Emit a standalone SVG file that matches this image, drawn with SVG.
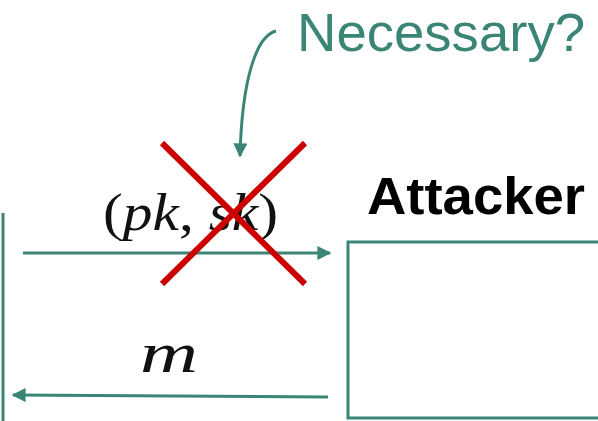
<svg xmlns="http://www.w3.org/2000/svg" width="598" height="421" viewBox="0 0 598 421">
<defs>
<style>
.teal{stroke:#3a8576;fill:none;stroke-width:3}
.math{font-family:"Liberation Serif",serif;fill:#111}
.x{stroke:#cc0000;stroke-width:6;stroke-linecap:butt}
</style>
<marker id="ah2" viewBox="0 0 10 10" refX="9" refY="5" markerWidth="16" markerHeight="14" orient="auto" markerUnits="userSpaceOnUse">
<path d="M0,0 L10,5 L0,10 z" fill="#3a8576"/>
</marker>
</defs>
<rect width="598" height="421" fill="#fff"/>
<g id="user">
<line class="teal" x1="3" y1="213" x2="3" y2="421"/>
</g>
<g id="attacker">
<rect class="teal" x="348" y="242" width="270" height="176"/>
<text x="476" y="214" text-anchor="middle" font-family="'Liberation Sans',sans-serif" font-weight="bold" font-size="51" textLength="218" lengthAdjust="spacingAndGlyphs" fill="#000">Attacker</text>
</g>
<g id="note">
<text x="441" y="51" text-anchor="middle" font-family="'Liberation Sans',sans-serif" font-size="54" textLength="288" lengthAdjust="spacingAndGlyphs" fill="#3a8576">Necessary?</text>
</g>
<g id="connectors">
<line class="teal" x1="23" y1="253" x2="330" y2="253" marker-end="url(#ah2)"/>
<line class="teal" x1="328" y1="397" x2="13" y2="395" marker-end="url(#ah2)"/>
<path class="teal" d="M276,31 C256,36 242,80 240,156" marker-end="url(#ah2)"/>
</g>
<g id="labels">
<text class="math" x="103" y="230" font-size="52" textLength="175" lengthAdjust="spacingAndGlyphs"><tspan>(</tspan><tspan font-style="italic">pk</tspan><tspan>, </tspan><tspan font-style="italic">sk</tspan><tspan>)</tspan></text>
<text class="math" x="140" y="372" font-size="58" font-style="italic" textLength="58" lengthAdjust="spacingAndGlyphs">m</text>
</g>
<g id="cross">
<line class="x" x1="162" y1="143" x2="305" y2="284"/>
<line class="x" x1="305" y1="143" x2="162" y2="284"/>
</g>
</svg>
